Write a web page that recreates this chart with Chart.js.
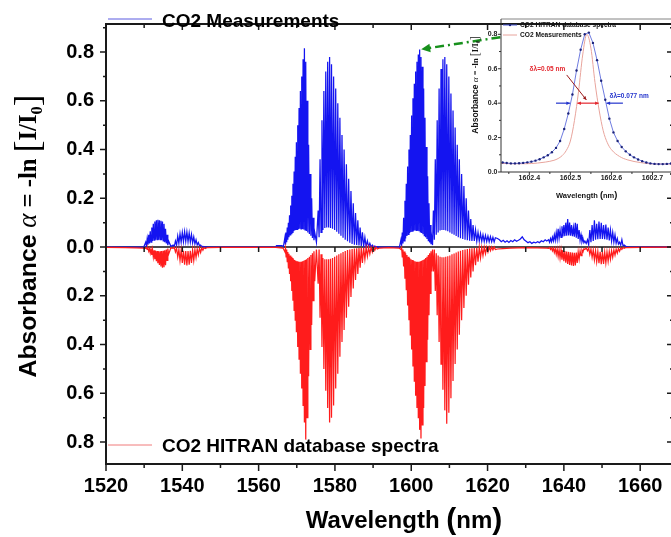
<!DOCTYPE html>
<html>
<head>
<meta charset="utf-8">
<script src="https://cdn.jsdelivr.net/npm/chart.js@4.4.1/dist/chart.umd.min.js"></script>
<style>
  html, body { margin: 0; padding: 0; background: #fff; overflow: hidden; }
  #wrap { position: relative; width: 671px; height: 537px; overflow: hidden; background: #fff; }
  #mainChart { position: absolute; left: 0; top: 0; }
  #insetChart { position: absolute; left: 460px; top: 8px; }
</style>
</head>
<body>
<div id="wrap">
  <canvas id="mainChart" width="680" height="537"></canvas>
  <canvas id="insetChart" width="220" height="200"></canvas>
</div>
<script>
// ---- main spectrum: absorption line centres (nm), one row per branch ----
const lineNm = [
  1530.4, 1530.8, 1531.2, 1531.6, 1532.0, 1532.4, 1532.8, 1533.2, 1533.6, 1534.0, 1534.4, 1534.8, 1535.2, 1535.6, 1536.0, 1536.4,
  1537.6, 1538.2, 1538.8, 1539.4, 1540.0, 1540.6, 1541.2, 1541.8, 1542.4, 1543.0, 1543.6, 1544.2, 1544.8, 1545.4, 1546.0,
  1566.9, 1567.2, 1567.5, 1567.8, 1568.1, 1568.4, 1568.7, 1569.0, 1569.3, 1569.6, 1569.9, 1570.25, 1570.6, 1570.95, 1571.3, 1571.65, 1572.0, 1572.35, 1572.7, 1573.1, 1573.5, 1573.9, 1574.3, 1574.7,
  1575.6, 1576.1, 1576.6, 1577.1, 1577.6, 1578.1, 1578.6, 1579.1, 1579.65, 1580.2, 1580.75, 1581.3, 1581.85, 1582.4, 1583.0, 1583.6, 1584.2, 1584.8, 1585.4, 1586.0, 1586.6, 1587.2, 1587.85, 1588.5, 1589.15, 1589.8, 1590.45, 1591.1,
  1597.3, 1597.65, 1598.0, 1598.35, 1598.7, 1599.05, 1599.4, 1599.75, 1600.1, 1600.45, 1600.8, 1601.15, 1601.5, 1601.85, 1602.2, 1602.55, 1602.9, 1603.25, 1603.6, 1603.95, 1604.3, 1604.65, 1605.0, 1605.35,
  1605.8, 1606.3, 1606.8, 1607.3, 1607.8, 1608.3, 1608.8, 1609.3, 1609.85, 1610.4, 1610.95, 1611.5, 1612.05, 1612.6, 1613.2, 1613.8, 1614.4, 1615.0, 1615.6, 1616.2, 1616.85, 1617.5, 1618.15, 1618.8, 1619.45, 1620.1, 1620.75, 1621.4, 1622.05,
  1636.0, 1636.5, 1637.0, 1637.5, 1638.0, 1638.5, 1639.0, 1639.5, 1640.0, 1640.5, 1641.0, 1641.5, 1642.0, 1642.5, 1643.0, 1643.5, 1644.0, 1644.5, 1645.0, 1645.5,
  1646.2, 1646.8, 1647.4, 1648.0, 1648.6, 1649.2, 1649.8, 1650.4, 1651.0, 1651.6, 1652.2, 1652.8, 1653.4, 1654.0, 1654.6, 1655.2, 1655.8
];
// measured peak absorbance of each line
const measPeak = [
  0.02, 0.035, 0.05, 0.065, 0.08, 0.095, 0.105, 0.11, 0.112, 0.11, 0.108, 0.105, 0.095, 0.075, 0.05, 0.025,
  0.008, 0.025, 0.045, 0.055, 0.06, 0.063, 0.062, 0.058, 0.052, 0.042, 0.03, 0.018, 0.008, 0.003, 0.001,
  0.04, 0.06, 0.08, 0.10, 0.13, 0.17, 0.21, 0.26, 0.31, 0.37, 0.43, 0.50, 0.57, 0.64, 0.70, 0.77, 0.815, 0.76, 0.60, 0.42, 0.30, 0.20, 0.12, 0.06,
  0.15, 0.36, 0.52, 0.64, 0.72, 0.76, 0.78, 0.75, 0.70, 0.65, 0.59, 0.53, 0.46, 0.40, 0.34, 0.28, 0.23, 0.18, 0.14, 0.11, 0.08, 0.06, 0.04, 0.025, 0.015, 0.008, 0.004, 0.002,
  0.03, 0.06, 0.12, 0.19, 0.26, 0.33, 0.40, 0.46, 0.54, 0.61, 0.67, 0.72, 0.76, 0.79, 0.81, 0.78, 0.74, 0.65, 0.53, 0.41, 0.29, 0.18, 0.09, 0.04,
  0.15, 0.36, 0.52, 0.65, 0.73, 0.77, 0.78, 0.75, 0.70, 0.63, 0.56, 0.49, 0.42, 0.36, 0.30, 0.25, 0.20, 0.15, 0.115, 0.09, 0.07, 0.06, 0.055, 0.05, 0.048, 0.045, 0.043, 0.04, 0.038,
  0.03, 0.035, 0.04, 0.05, 0.06, 0.075, 0.07, 0.085, 0.09, 0.1, 0.115, 0.1, 0.09, 0.08, 0.1, 0.095, 0.07, 0.05, 0.035, 0.025,
  0.03, 0.07, 0.09, 0.11, 0.095, 0.105, 0.1, 0.09, 0.092, 0.08, 0.07, 0.06, 0.05, 0.035, 0.02, 0.03, 0.008
];
// measured level between a line and the next one
const measBase = [
  0.005, 0.01, 0.015, 0.02, 0.025, 0.028, 0.03, 0.03, 0.03, 0.03, 0.028, 0.025, 0.02, 0.015, 0.008, 0.003,
  0.002, 0.008, 0.015, 0.02, 0.022, 0.023, 0.022, 0.02, 0.017, 0.013, 0.009, 0.005, 0.002, 0.001, 0,
  0.01, 0.02, 0.03, 0.04, 0.05, 0.055, 0.06, 0.065, 0.068, 0.07, 0.072, 0.074, 0.075, 0.075, 0.074, 0.072, 0.07, 0.066, 0.06, 0.054, 0.046, 0.037, 0.028, 0.02,
  0.04, 0.06, 0.07, 0.078, 0.08, 0.08, 0.078, 0.075, 0.07, 0.063, 0.055, 0.046, 0.038, 0.03, 0.024, 0.018, 0.013, 0.01, 0.008, 0.006, 0.004, 0.003, 0.002, 0.001, 0.001, 0, 0, 0,
  0.005, 0.015, 0.025, 0.035, 0.045, 0.052, 0.058, 0.062, 0.065, 0.067, 0.068, 0.068, 0.067, 0.065, 0.062, 0.058, 0.053, 0.047, 0.04, 0.033, 0.026, 0.019, 0.012, 0.008,
  0.03, 0.05, 0.06, 0.068, 0.07, 0.07, 0.068, 0.065, 0.06, 0.055, 0.05, 0.045, 0.04, 0.036, 0.033, 0.03, 0.028, 0.026, 0.025, 0.025, 0.024, 0.024, 0.024, 0.023, 0.023, 0.022, 0.022, 0.021, 0.02,
  0.02, 0.022, 0.025, 0.028, 0.032, 0.036, 0.04, 0.043, 0.045, 0.047, 0.048, 0.047, 0.045, 0.042, 0.038, 0.033, 0.028, 0.022, 0.018, 0.015,
  0.01, 0.02, 0.025, 0.03, 0.032, 0.033, 0.033, 0.032, 0.03, 0.027, 0.024, 0.02, 0.016, 0.012, 0.008, 0.005, 0.002
];
// HITRAN peak absorbance (plotted downwards)
const hitranPeak = [
  0.005, 0.01, 0.017, 0.025, 0.032, 0.04, 0.05, 0.058, 0.066, 0.074, 0.08, 0.085, 0.083, 0.075, 0.055, 0.03,
  0.005, 0.02, 0.04, 0.055, 0.065, 0.072, 0.075, 0.072, 0.065, 0.055, 0.043, 0.032, 0.022, 0.013, 0.006,
  0.02, 0.04, 0.06, 0.085, 0.11, 0.14, 0.18, 0.22, 0.26, 0.30, 0.35, 0.41, 0.46, 0.52, 0.58, 0.65, 0.72, 0.79, 0.70, 0.53, 0.42, 0.32, 0.22, 0.14,
  0.15, 0.29, 0.41, 0.50, 0.59, 0.66, 0.72, 0.70, 0.65, 0.58, 0.52, 0.45, 0.39, 0.34, 0.29, 0.245, 0.205, 0.17, 0.135, 0.11, 0.085, 0.065, 0.05, 0.038, 0.028, 0.02, 0.013, 0.008,
  0.01, 0.04, 0.08, 0.13, 0.175, 0.24, 0.30, 0.36, 0.42, 0.49, 0.55, 0.61, 0.66, 0.70, 0.75, 0.785, 0.73, 0.66, 0.57, 0.47, 0.38, 0.28, 0.19, 0.10,
  0.1, 0.18, 0.28, 0.39, 0.48, 0.585, 0.67, 0.725, 0.68, 0.62, 0.55, 0.48, 0.42, 0.36, 0.30, 0.25, 0.20, 0.155, 0.125, 0.10, 0.075, 0.06, 0.045, 0.035, 0.027, 0.02, 0.015, 0.012, 0.01,
  0.005, 0.01, 0.015, 0.022, 0.03, 0.038, 0.045, 0.052, 0.058, 0.064, 0.069, 0.073, 0.076, 0.078, 0.075, 0.065, 0.05, 0.035, 0.02, 0.01,
  0.015, 0.03, 0.042, 0.052, 0.06, 0.066, 0.07, 0.069, 0.065, 0.058, 0.05, 0.042, 0.033, 0.025, 0.017, 0.01, 0.005
];
const hitranBase = [
  0.003, 0.005, 0.007, 0.009, 0.011, 0.013, 0.015, 0.016, 0.017, 0.017, 0.016, 0.015, 0.013, 0.01, 0.006, 0.003,
  0.001, 0.005, 0.01, 0.013, 0.015, 0.016, 0.016, 0.015, 0.013, 0.01, 0.008, 0.005, 0.003, 0.002, 0.001,
  0.005, 0.01, 0.02, 0.028, 0.035, 0.04, 0.045, 0.05, 0.053, 0.056, 0.058, 0.06, 0.06, 0.06, 0.058, 0.056, 0.053, 0.05, 0.045, 0.04, 0.033, 0.025, 0.017, 0.01,
  0.01, 0.03, 0.045, 0.05, 0.05, 0.05, 0.048, 0.045, 0.04, 0.035, 0.03, 0.025, 0.02, 0.016, 0.012, 0.01, 0.008, 0.006, 0.005, 0.004, 0.003, 0.002, 0.002, 0.001, 0.001, 0, 0, 0,
  0.003, 0.01, 0.018, 0.026, 0.033, 0.04, 0.045, 0.05, 0.053, 0.056, 0.058, 0.06, 0.06, 0.06, 0.058, 0.056, 0.053, 0.05, 0.045, 0.04, 0.033, 0.025, 0.017, 0.01,
  0.01, 0.025, 0.035, 0.04, 0.042, 0.042, 0.04, 0.038, 0.035, 0.03, 0.026, 0.022, 0.018, 0.015, 0.012, 0.01, 0.008, 0.006, 0.005, 0.004, 0.003, 0.002, 0.002, 0.001, 0.001, 0, 0, 0, 0,
  0.002, 0.003, 0.004, 0.006, 0.008, 0.01, 0.012, 0.014, 0.016, 0.018, 0.02, 0.022, 0.023, 0.024, 0.023, 0.02, 0.016, 0.012, 0.007, 0.004,
  0.004, 0.008, 0.012, 0.015, 0.018, 0.02, 0.021, 0.021, 0.02, 0.018, 0.015, 0.012, 0.009, 0.006, 0.004, 0.002, 0.001
];
// background outside the bands
const measBgNm = [1520, 1529.9, 1546.6, 1564.4, 1564.7, 1566.1, 1566.5, 1591.7, 1596.9,
  1622.6, 1623.1, 1623.6, 1624.1, 1624.6, 1625.1, 1625.6, 1626.1, 1626.6, 1627.1, 1627.6, 1628.1, 1628.6, 1629.1,
  1629.6, 1630.1, 1630.6, 1631.1, 1631.6, 1632.1, 1632.6, 1633.1, 1633.6, 1634.1, 1634.6, 1635.1, 1635.5, 1656.3, 1657, 1668.6];
const measBg = [0, 0, 0, 0, 0.006, 0.006, 0.002, 0, 0,
  0.035, 0.03, 0.022, 0.028, 0.02, 0.026, 0.019, 0.027, 0.022, 0.03, 0.024, 0.028, 0.033, 0.042,
  0.03, 0.024, 0.018, 0.022, 0.015, 0.02, 0.017, 0.022, 0.018, 0.026, 0.022, 0.03, 0.025, 0.002, 0, 0];
const hitranBgNm = [1520, 1525, 1528, 1529.9, 1546.6, 1550, 1564.5, 1566.4, 1591.7, 1594, 1596.8,
  1622.6, 1624, 1626, 1630, 1633, 1635.5, 1656.3, 1660, 1668.6];
const hitranBg = [0.001, 0.002, 0.003, 0.004, 0.002, 0.001, 0.001, 0.004, 0.004, 0.002, 0.004,
  0.008, 0.006, 0.004, 0.002, 0.003, 0.004, 0.002, 0.001, 0];

// ---- inset: zoom on the 1602.5 nm line ----
const insetNm = [1602.335, 1602.345, 1602.355, 1602.365, 1602.375, 1602.385, 1602.395, 1602.405, 1602.415, 1602.425,
  1602.435, 1602.445, 1602.455, 1602.465, 1602.475, 1602.485, 1602.495, 1602.505, 1602.515, 1602.525,
  1602.535, 1602.545, 1602.555, 1602.565, 1602.575, 1602.585, 1602.595, 1602.605, 1602.615, 1602.625,
  1602.635, 1602.645, 1602.655, 1602.665, 1602.675, 1602.685, 1602.695, 1602.705, 1602.715, 1602.725, 1602.735, 1602.745];
const insetHitran = [0.055, 0.052, 0.05, 0.05, 0.051, 0.053, 0.056, 0.06, 0.066, 0.074,
  0.085, 0.097, 0.115, 0.14, 0.18, 0.25, 0.34, 0.45, 0.59, 0.71,
  0.80, 0.81, 0.75, 0.65, 0.53, 0.42, 0.31, 0.23, 0.18, 0.145,
  0.12, 0.10, 0.085, 0.073, 0.063, 0.055, 0.05, 0.047, 0.046, 0.046, 0.047, 0.049];
const insetMeasNm = [1602.331, 1602.36, 1602.39, 1602.42, 1602.44, 1602.46, 1602.47, 1602.48, 1602.49, 1602.50,
  1602.51, 1602.52, 1602.53, 1602.54, 1602.55, 1602.56, 1602.57, 1602.58, 1602.59, 1602.60,
  1602.62, 1602.64, 1602.67, 1602.70, 1602.75];
const insetMeas = [0.05, 0.048, 0.048, 0.052, 0.058, 0.068, 0.078, 0.095, 0.125, 0.18,
  0.3, 0.47, 0.68, 0.8, 0.72, 0.52, 0.36, 0.24, 0.17, 0.13,
  0.09, 0.07, 0.055, 0.047, 0.046];

const SANS = '"Liberation Sans", Arial, sans-serif';
const SERIF = '"Liberation Serif", "Times New Roman", serif';
Chart.defaults.font.family = SANS;

// peak at every line, line-to-line level halfway to the next line, plus background
function buildSpectrum(peaks, bases, bgNm, bgVal, sign) {
  const pts = [];
  lineNm.forEach((nm, i) => {
    pts.push({ x: nm, y: sign * peaks[i] });
    const next = lineNm[i + 1];
    if (next !== undefined && next - nm < 1.5) {
      pts.push({ x: (nm + next) / 2, y: sign * bases[i] });
    }
  });
  bgNm.forEach((nm, i) => pts.push({ x: nm, y: sign * bgVal[i] }));
  return pts.sort((a, b) => a.x - b.x);
}

// text made of runs with different fonts, centred on cx
function drawRuns(ctx, runs, cx, by, k) {
  let total = 0;
  runs.forEach(r => {
    ctx.font = `${r.w} ${r.s * k}px ${r.fam}`;
    r.width = ctx.measureText(r.t).width;
    total += r.width;
  });
  let px = cx - total / 2;
  ctx.textAlign = 'left';
  ctx.textBaseline = 'alphabetic';
  runs.forEach(r => {
    ctx.font = `${r.w} ${r.s * k}px ${r.fam}`;
    ctx.fillText(r.t, px, by + (r.dy || 0) * k);
    px += r.width;
  });
}

function arrowHead(ctx, x1, y1, x2, y2, size) {
  const ang = Math.atan2(y2 - y1, x2 - x1);
  ctx.beginPath();
  ctx.moveTo(x2, y2);
  ctx.lineTo(x2 - size * Math.cos(ang - 0.45), y2 - size * Math.sin(ang - 0.45));
  ctx.lineTo(x2 - size * Math.cos(ang + 0.45), y2 - size * Math.sin(ang + 0.45));
  ctx.closePath();
  ctx.fill();
}

function arrow(ctx, x1, y1, x2, y2, size, both) {
  ctx.beginPath();
  ctx.moveTo(x1, y1);
  ctx.lineTo(x2, y2);
  ctx.stroke();
  arrowHead(ctx, x1, y1, x2, y2, size);
  if (both) arrowHead(ctx, x2, y2, x1, y1, size);
}

const yTitleRuns = [
  { t: 'Absorbance ', s: 24, w: 'bold', fam: SANS },
  { t: 'α', s: 26, w: 'italic', fam: SERIF },
  { t: ' = -ln ', s: 24, w: 'bold', fam: SERIF },
  { t: '[', s: 34, w: '', fam: SERIF, dy: 3 },
  { t: 'I/I', s: 24, w: 'bold', fam: SERIF },
  { t: '0', s: 16, w: 'bold', fam: SERIF, dy: 6 },
  { t: ']', s: 34, w: '', fam: SERIF, dy: 3 }
];
const xTitleRuns = [
  { t: 'Wavelength ', s: 24, w: 'bold', fam: SANS },
  { t: '(', s: 30, w: 'bold', fam: SANS, dy: 1 },
  { t: 'nm', s: 24, w: 'bold', fam: SANS },
  { t: ')', s: 30, w: 'bold', fam: SANS, dy: 1 }
];

const mainDecor = {
  id: 'mainDecor',
  beforeDatasetsDraw(chart) {
    const { ctx, chartArea: a, scales: { y } } = chart;
    const y0 = y.getPixelForValue(0);
    ctx.save();
    ctx.strokeStyle = '#111';
    ctx.lineWidth = 1.5;
    ctx.beginPath();
    ctx.moveTo(a.left, y0);
    ctx.lineTo(a.right, y0);
    ctx.stroke();
    ctx.restore();
  },
  afterDraw(chart) {
    const { ctx, chartArea: a, scales: { x, y } } = chart;
    ctx.save();
    // frame
    ctx.strokeStyle = '#1a1a1a';
    ctx.lineWidth = 2;
    ctx.beginPath();
    ctx.moveTo(a.left, a.top); ctx.lineTo(a.left, a.bottom);
    ctx.moveTo(a.left - 1, a.bottom); ctx.lineTo(a.right, a.bottom);
    ctx.moveTo(a.left - 1, a.top); ctx.lineTo(a.right, a.top);
    ctx.moveTo(a.right, a.top); ctx.lineTo(a.right, a.bottom);
    ctx.stroke();

    // ticks
    ctx.lineWidth = 1.5;
    ctx.beginPath();
    for (let k = -9; k <= 9; k++) {
      const v = k / 10;
      if (v < y.min || v > y.max) continue;
      const py = y.getPixelForValue(v);
      const len = k % 2 === 0 ? 6 : 3;
      ctx.moveTo(a.left - len, py); ctx.lineTo(a.left, py);
      ctx.moveTo(a.right, py); ctx.lineTo(a.right - len, py);
    }
    const y0 = y.getPixelForValue(0);
    for (let nm = 1520; nm <= x.max; nm += 10) {
      const px = x.getPixelForValue(nm);
      const major = nm % 20 === 0;
      ctx.moveTo(px, a.bottom); ctx.lineTo(px, a.bottom + (major ? 7 : 4));
      ctx.moveTo(px, a.top); ctx.lineTo(px, a.top + (major ? 6 : 4));
      ctx.moveTo(px, y0); ctx.lineTo(px, y0 + 5);
    }
    ctx.stroke();

    // legend, split top / bottom
    const ds = chart.data.datasets;
    ctx.lineWidth = 1;
    ctx.strokeStyle = '#5a5ae0';
    ctx.beginPath(); ctx.moveTo(a.left + 2, 19); ctx.lineTo(152, 19); ctx.stroke();
    ctx.strokeStyle = '#f07a7a';
    ctx.beginPath(); ctx.moveTo(a.left + 2, 445); ctx.lineTo(152, 445); ctx.stroke();
    ctx.fillStyle = '#000';
    ctx.font = 'bold 19px ' + SANS;
    ctx.textAlign = 'left';
    ctx.textBaseline = 'alphabetic';
    ctx.fillText(ds[1].label, 162, 27);
    ctx.fillText(ds[0].label, 162, 452);

    // axis titles
    drawRuns(ctx, xTitleRuns, 404, 528, 1);
    ctx.save();
    ctx.translate(36, 236);
    ctx.rotate(-Math.PI / 2);
    drawRuns(ctx, yTitleRuns, 0, 0, 1.03);
    ctx.restore();

    // green pointer from the inset to the 1602 nm peak
    const hx = x.getPixelForValue(1602.6), hy = y.getPixelForValue(0.811);
    const tx = x.getPixelForValue(1623.35), ty = y.getPixelForValue(0.861);
    ctx.strokeStyle = '#17901c';
    ctx.fillStyle = '#17901c';
    ctx.lineWidth = 2.5;
    ctx.setLineDash([9, 4, 2, 4]);
    ctx.beginPath(); ctx.moveTo(tx, ty); ctx.lineTo(hx + 6, hy - 1); ctx.stroke();
    ctx.setLineDash([]);
    arrowHead(ctx, tx, ty, hx, hy, 10);
    ctx.restore();
  }
};

new Chart(document.getElementById('mainChart'), {
  type: 'line',
  data: {
    datasets: [
      {
        label: 'CO2 HITRAN database spectra',
        data: buildSpectrum(hitranPeak, hitranBase, hitranBgNm, hitranBg, -1),
        borderColor: '#ff1c1c',
        borderWidth: 1.25,
        pointRadius: 0,
        tension: 0
      },
      {
        label: 'CO2 Measurements',
        data: buildSpectrum(measPeak, measBase, measBgNm, measBg, 1),
        borderColor: '#1414f0',
        borderWidth: 1.25,
        pointRadius: 0,
        tension: 0
      }
    ]
  },
  options: {
    responsive: false,
    animation: false,
    devicePixelRatio: 1,
    layout: { padding: { left: 0, top: 5, right: 7, bottom: 0 } },
    plugins: { legend: { display: false }, tooltip: { enabled: false } },
    scales: {
      x: {
        type: 'linear', min: 1520, max: 1668.6,
        border: { display: false },
        grid: { display: false, drawTicks: false },
        ticks: {
          stepSize: 20, includeBounds: false, padding: 10, maxRotation: 0, autoSkip: false,
          color: '#000', font: { size: 20, weight: 'bold' },
          callback: v => String(v)
        },
        afterFit: s => { s.height = 73; }
      },
      y: {
        type: 'linear', min: -0.89, max: 0.915,
        border: { display: false },
        grid: { display: false, drawTicks: false },
        ticks: {
          stepSize: 0.2, includeBounds: false, padding: 12,
          color: '#000', font: { size: 20, weight: 'bold' },
          callback: v => Math.abs(v).toFixed(1)
        },
        afterFit: s => { s.width = 106; }
      }
    }
  },
  plugins: [mainDecor]
});

const insetDecor = {
  id: 'insetDecor',
  afterDraw(chart) {
    const { ctx, chartArea: a, scales: { x, y } } = chart;
    ctx.save();
    ctx.strokeStyle = '#333';
    ctx.lineWidth = 1;
    ctx.beginPath();
    ctx.moveTo(a.left, a.top); ctx.lineTo(a.left, a.bottom); ctx.lineTo(a.right, a.bottom);
    ctx.stroke();
    ctx.strokeStyle = '#666';
    ctx.lineWidth = 0.8;
    ctx.beginPath(); ctx.moveTo(a.left, a.top); ctx.lineTo(a.right, a.top); ctx.stroke();

    ctx.strokeStyle = '#333';
    ctx.lineWidth = 1;
    ctx.beginPath();
    for (let k = 0; k <= 8; k++) {
      const py = y.getPixelForValue(k / 10);
      const len = k % 2 === 0 ? 3 : 2;
      ctx.moveTo(a.left - len, py); ctx.lineTo(a.left, py);
    }
    for (let k = 7; k <= 15; k++) {
      const px = x.getPixelForValue(1602 + k / 20);
      const len = k % 2 === 0 ? 3 : 2;
      ctx.moveTo(px, a.bottom); ctx.lineTo(px, a.bottom + len);
    }
    ctx.stroke();

    // legend
    const ds = chart.data.datasets;
    const r1 = a.top + 6, r2 = a.top + 16;
    ctx.strokeStyle = '#4a5ad8';
    ctx.beginPath(); ctx.moveTo(a.left + 2, r1); ctx.lineTo(a.left + 16, r1); ctx.stroke();
    ctx.fillStyle = '#1c247a';
    ctx.beginPath(); ctx.arc(a.left + 9, r1, 1.2, 0, Math.PI * 2); ctx.fill();
    ctx.strokeStyle = '#e8a49c';
    ctx.beginPath(); ctx.moveTo(a.left + 2, r2); ctx.lineTo(a.left + 16, r2); ctx.stroke();
    ctx.fillStyle = '#111';
    ctx.font = 'bold 6.6px ' + SANS;
    ctx.textAlign = 'left';
    ctx.textBaseline = 'middle';
    ctx.fillText(ds[0].label, a.left + 19, r1);
    ctx.fillText(ds[1].label, a.left + 19, r2);

    // line width annotations
    const yHalf = y.getPixelForValue(0.4);
    ctx.font = 'bold 6.5px ' + SANS;
    ctx.textAlign = 'center';
    ctx.fillStyle = '#e3262d';
    ctx.fillText('δλ=0.05 nm', x.getPixelForValue(1602.444), y.getPixelForValue(0.6));
    ctx.fillStyle = '#2233cc';
    ctx.fillText('δλ=0.077 nm', x.getPixelForValue(1602.643), y.getPixelForValue(0.438));

    ctx.lineWidth = 1;
    ctx.strokeStyle = '#9b1c1c'; ctx.fillStyle = '#9b1c1c';
    arrow(ctx, x.getPixelForValue(1602.491), y.getPixelForValue(0.564),
      x.getPixelForValue(1602.539), y.getPixelForValue(0.419), 4, false);
    ctx.lineWidth = 1.2;
    ctx.strokeStyle = '#e3262d'; ctx.fillStyle = '#e3262d';
    arrow(ctx, x.getPixelForValue(1602.517), yHalf, x.getPixelForValue(1602.569), yHalf, 4, true);
    ctx.strokeStyle = '#2233cc'; ctx.fillStyle = '#2233cc';
    arrow(ctx, x.getPixelForValue(1602.465), yHalf, x.getPixelForValue(1602.499), yHalf, 4, false);
    arrow(ctx, x.getPixelForValue(1602.628), yHalf, x.getPixelForValue(1602.588), yHalf, 4, false);

    // titles
    ctx.fillStyle = '#111';
    drawRuns(ctx, xTitleRuns, 126.7, 189.5, 7.5 / 24);
    ctx.save();
    ctx.translate(18, 77);
    ctx.rotate(-Math.PI / 2);
    drawRuns(ctx, yTitleRuns, 0, 0, 8.5 / 24);
    ctx.restore();
    ctx.restore();
  }
};

new Chart(document.getElementById('insetChart'), {
  type: 'line',
  data: {
    datasets: [
      {
        label: 'CO2 HITRAN database spectra',
        data: insetNm.map((nm, i) => ({ x: nm, y: insetHitran[i] })),
        borderColor: '#4a5ad8',
        borderWidth: 0.8,
        pointRadius: 1.2,
        pointBackgroundColor: '#1c247a',
        pointBorderWidth: 0
      },
      {
        label: 'CO2 Measurements',
        data: insetMeasNm.map((nm, i) => ({ x: nm, y: insetMeas[i] })),
        borderColor: '#e8a49c',
        borderWidth: 1,
        pointRadius: 0,
        cubicInterpolationMode: 'monotone'
      }
    ]
  },
  options: {
    responsive: false,
    animation: false,
    devicePixelRatio: 1,
    layout: { padding: { left: 0, top: 11, right: 7, bottom: 0 } },
    plugins: { legend: { display: false }, tooltip: { enabled: false } },
    scales: {
      x: {
        type: 'linear', min: 1602.331, max: 1602.75,
        border: { display: false },
        grid: { display: false, drawTicks: false },
        ticks: {
          stepSize: 0.1, includeBounds: false, padding: 2, maxRotation: 0, autoSkip: false,
          color: '#222', font: { size: 7, weight: 'bold' },
          callback: v => v.toFixed(1)
        },
        afterFit: s => { s.height = 36; }
      },
      y: {
        type: 'linear', min: 0, max: 0.889,
        border: { display: false },
        grid: { display: false, drawTicks: false },
        ticks: {
          stepSize: 0.2, includeBounds: false, padding: 3.5,
          color: '#222', font: { size: 7, weight: 'bold' },
          callback: v => v.toFixed(1)
        },
        afterFit: s => { s.width = 41; }
      }
    }
  },
  plugins: [insetDecor]
});
</script>
</body>
</html>
